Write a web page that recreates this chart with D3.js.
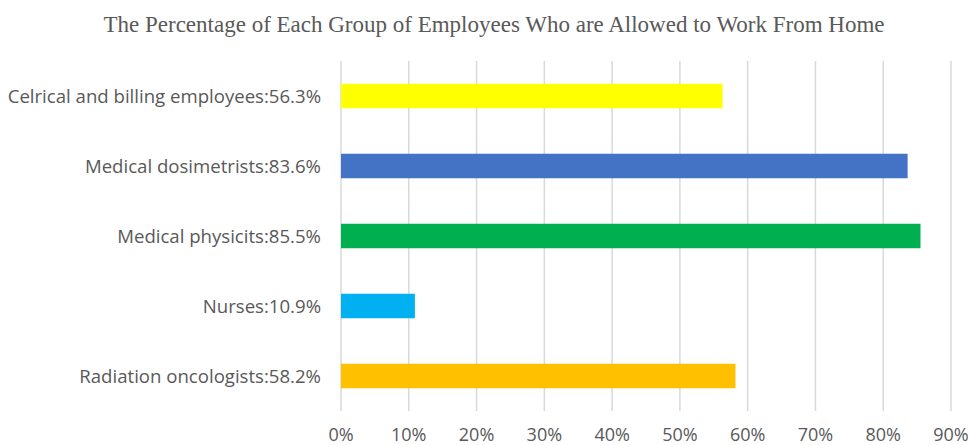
<!DOCTYPE html>
<html>
<head>
<meta charset="utf-8">
<script src="https://cdn.jsdelivr.net/npm/d3@7"></script>
<style>
  body { margin: 0; background: #fff; }
  svg { display: block; }
</style>
</head>
<body>
<svg id="chart" width="969" height="445"></svg>
<script>
// chart data
const categories = [
  "Celrical and billing employees:56.3%",
  "Medical dosimetrists:83.6%",
  "Medical physicits:85.5%",
  "Nurses:10.9%",
  "Radiation oncologists:58.2%"
];
const values = [56.3, 83.6, 85.5, 10.9, 58.2];
const barColors = ["#FFFF00", "#4472C4", "#00B050", "#00B0F0", "#FFC000"];
const ticks = [0, 10, 20, 30, 40, 50, 60, 70, 80, 90];

const width = 969;
const height = 445;
const margin = { top: 61, right: 18, bottom: 34, left: 341 };

const svg = d3.select("#chart");

const x = d3.scaleLinear()
  .domain([0, 90])
  .range([margin.left, width - margin.right]);

const y = d3.scaleBand()
  .domain(categories)
  .range([margin.top, height - margin.bottom])
  .paddingInner(0.65)
  .paddingOuter(0.325);

// gridlines
svg.append("g")
  .selectAll("line")
  .data(ticks)
  .join("line")
  .attr("x1", d => x(d))
  .attr("x2", d => x(d))
  .attr("y1", margin.top)
  .attr("y2", height - margin.bottom)
  .attr("stroke", "#D9D9D9")
  .attr("stroke-width", 1.5);

// bars
svg.append("g")
  .selectAll("rect")
  .data(values)
  .join("rect")
  .attr("x", x(0))
  .attr("y", (d, i) => y(categories[i]))
  .attr("width", d => x(d) - x(0))
  .attr("height", y.bandwidth())
  .attr("fill", (d, i) => barColors[i]);

// category labels
svg.append("g")
  .selectAll("text")
  .data(categories)
  .join("text")
  .attr("x", margin.left - 20)
  .attr("y", d => y(d) + y.bandwidth() / 2)
  .attr("dy", "0.35em")
  .attr("text-anchor", "end")
  .attr("font-family", "Open Sans, sans-serif")
  .attr("font-size", 18.6)
  .attr("fill", "#595959")
  .text(d => d);

// x tick labels
svg.append("g")
  .selectAll("text")
  .data(ticks)
  .join("text")
  .attr("x", d => x(d))
  .attr("y", 441)
  .attr("text-anchor", "middle")
  .attr("font-family", "Open Sans, sans-serif")
  .attr("font-size", 18)
  .attr("fill", "#595959")
  .text(d => d + "%");

// title
svg.append("text")
  .attr("x", 494)
  .attr("y", 32)
  .attr("text-anchor", "middle")
  .attr("font-family", "Liberation Serif, Times New Roman, serif")
  .attr("font-size", 23)
  .attr("fill", "#595959")
  .text("The Percentage of Each Group of Employees Who are Allowed to Work From Home");
</script>
</body>
</html>
